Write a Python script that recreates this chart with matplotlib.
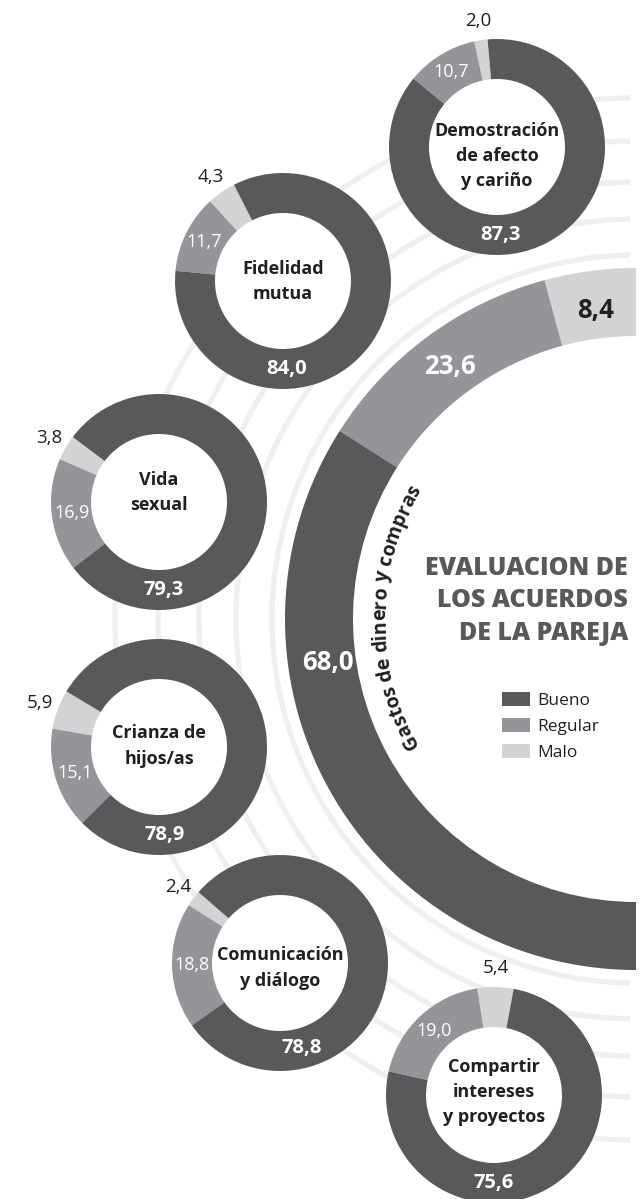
import matplotlib
matplotlib.use("Agg")
import matplotlib.pyplot as plt
import numpy as np
from matplotlib.patches import Circle, Patch
from matplotlib.font_manager import FontProperties, findfont, get_font

plt.rcParams['font.family'] = ['Open Sans', 'DejaVu Sans']

# datos (porcentajes)
temas = ['Demostración\nde afecto\ny cariño', 'Fidelidad\nmutua', 'Vida\nsexual',
         'Crianza de\nhijos/as', 'Comunicación\ny diálogo', 'Compartir\nintereses\ny proyectos']
bueno = [87.3, 84.0, 79.3, 78.9, 78.8, 75.6]
regular = [10.7, 11.7, 16.9, 15.1, 18.8, 19.0]
malo = [2.0, 4.3, 3.8, 5.9, 2.4, 5.4]

gastos_tema = 'Gastos de dinero y compras'
gastos_bueno, gastos_regular, gastos_malo = 68.0, 23.6, 8.4
niveles = ['Bueno', 'Regular', 'Malo']

titulo = 'EVALUACION DE\nLOS ACUERDOS\nDE LA PAREJA'

# colores
oscuro = '#58595b'
medio = '#939598'
claro = '#d1d3d4'
arco = '#efeff0'
negro = '#231f20'

W, H = 642, 1199


def Y(y):
    # coordenada de imagen -> coordenada de datos
    return H - y


def fmt(v):
    return f'{v:.1f}'.replace('.', ',')


def polar(cx, cy, r, ang):
    a = np.radians(ang)
    return cx + r * np.cos(a), cy + r * np.sin(a)


fig = plt.figure(figsize=(W / 100, H / 100), dpi=100)
ax = fig.add_axes([0, 0, 630 / W, 1])

# anillo grande
gx, gy = 636, Y(619)
for rr in [364, 400, 437, 478, 521]:
    ax.add_patch(Circle((gx, gy), rr, fill=False, lw=3.8, ec=arco, zorder=0))

g_vals = [gastos_malo, gastos_regular, gastos_bueno]
ax.pie([v / 200 for v in g_vals], normalize=False, startangle=90, counterclock=True,
       radius=351, center=(gx, gy), colors=[claro, medio, oscuro],
       wedgeprops=dict(width=68, linewidth=0), frame=False)

a_malo = 90 + gastos_malo * 0.9
a_reg = 90 + gastos_malo * 1.8 + gastos_regular * 0.9
x, y = polar(gx, gy, 311, a_malo)
ax.text(x, y, fmt(gastos_malo), color=negro, fontsize=18.5, fontweight='bold', ha='center', va='center')
x, y = polar(gx, gy, 314, a_reg)
ax.text(x, y, fmt(gastos_regular), color='white', fontsize=18.5, fontweight='bold', ha='center', va='center')
x, y = polar(gx, gy, 311, 188)
ax.text(x, y, fmt(gastos_bueno), color='white', fontsize=18.5, fontweight='bold', ha='center', va='center')

# texto curvo dentro del anillo grande (avance de cada letra)
fp = FontProperties(family='Open Sans', weight='bold', size=14)
fuente = get_font(findfont(fp))
fuente.set_size(fp.get_size_in_points(), 100)
avances = [fuente.load_char(ord(c)).linearHoriAdvance / 65536 for c in gastos_tema]
total = sum(avances)
r_txt = 251
a_centro = 179.5
pos = 0
for ch, av in zip(gastos_tema, avances):
    s = pos + av / 2
    pos += av
    if ch == ' ':
        continue
    ang = a_centro + np.degrees((total / 2 - s) / r_txt)
    x, y = polar(gx, gy, r_txt, ang)
    ax.text(x, y, ch, fontproperties=fp, color=negro, rotation=ang - 90,
            rotation_mode='anchor', ha='center', va='baseline')

# donas pequeñas
centros = [(497, 147), (283, 281), (159, 502), (159, 747), (280, 963), (494, 1095)]
inicio = [95, 117, 143, 149, 139, 79.5]
texto_dy = [9, 1, -9, -1, 5, -3]
ang_bueno = [272, 272, 273, 274, 284, 270]
R, ancho = 108, 40

for i in range(len(temas)):
    cx, cy = centros[i][0], Y(centros[i][1])
    ax.add_patch(Circle((cx, cy), R - ancho, fc='white', ec='none', zorder=1))
    ax.pie([malo[i], regular[i], bueno[i]], startangle=inicio[i], counterclock=True,
           radius=R, center=(cx, cy), colors=[claro, medio, oscuro],
           wedgeprops=dict(width=ancho, linewidth=0), frame=False)
    m_mid = inicio[i] + malo[i] * 1.8
    r_mid = inicio[i] + malo[i] * 3.6 + regular[i] * 1.8
    x, y = polar(cx, cy, 127, m_mid)
    ax.text(x, y, fmt(malo[i]), color=negro, fontsize=13.5, ha='center', va='center')
    x, y = polar(cx, cy, 88, r_mid)
    ax.text(x, y, fmt(regular[i]), color='white', fontsize=13, ha='center', va='center')
    x, y = polar(cx, cy, 88, ang_bueno[i])
    ax.text(x, y, fmt(bueno[i]), color='white', fontsize=14.5, fontweight='bold', ha='center', va='center')
    ax.text(cx, cy - texto_dy[i], temas[i], color=negro, fontsize=13, fontweight='bold',
            ha='center', va='center', linespacing=1.5)

# titulo y leyenda
ax.text(628, Y(601), titulo, color=oscuro, fontsize=18, fontweight='heavy',
        ha='right', va='center', multialignment='right', linespacing=1.41)

fig.legend(handles=[Patch(fc=oscuro), Patch(fc=medio), Patch(fc=claro)], labels=niveles,
           loc='upper left', bbox_to_anchor=(502 / W, 1 - 692 / H), frameon=False,
           fontsize=12.5, labelcolor=negro, handlelength=1.6, handleheight=0.9,
           handletextpad=0.45, labelspacing=0.5, borderpad=0, borderaxespad=0)

ax.set_xlim(0, 630)
ax.set_ylim(0, H)
ax.set_aspect('equal')
ax.axis('off')

plt.savefig('out.png', dpi=100)
